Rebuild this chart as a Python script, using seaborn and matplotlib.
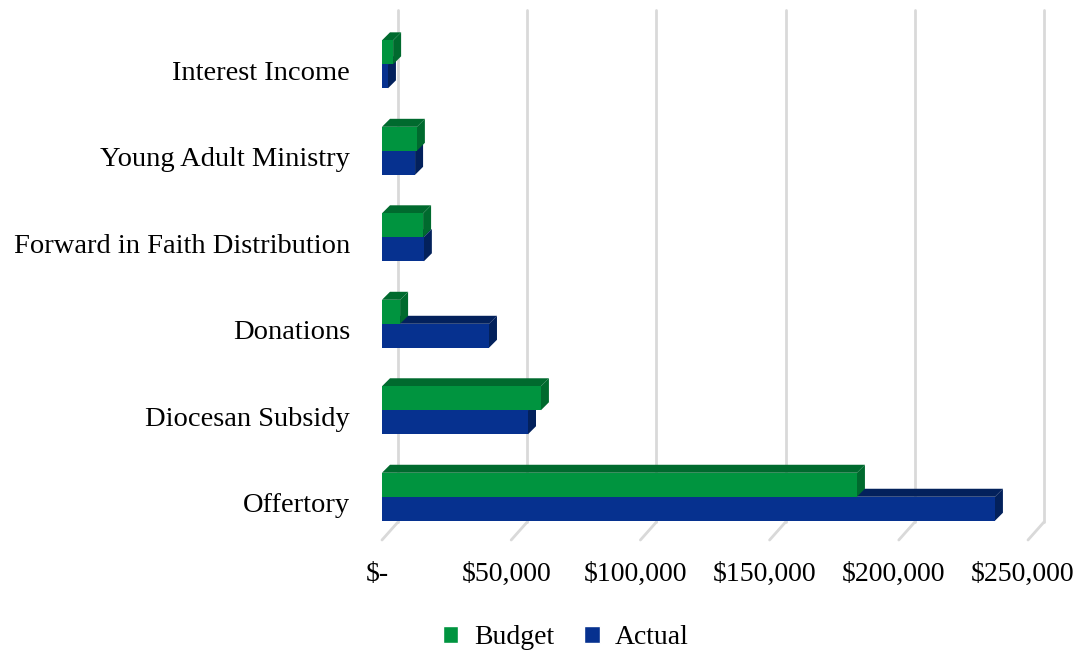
import numpy as np
import pandas as pd
import matplotlib
matplotlib.use("Agg")
import matplotlib.pyplot as plt
import matplotlib.transforms as mtransforms
from matplotlib.patches import Polygon, Patch
import seaborn as sns

categories = ['Interest Income', 'Young Adult Ministry', 'Forward in Faith Distribution',
              'Donations', 'Diocesan Subsidy', 'Offertory']
budget = [4300, 13500, 15900, 7000, 61500, 183800]
actual = [2300, 12800, 16200, 41400, 56500, 237200]
ticks = [0, 50000, 100000, 150000, 200000, 250000]
tick_labels = ['$-', '$50,000', '$100,000', '$150,000', '$200,000', '$250,000']

front = {'Budget': '#00943f', 'Actual': '#06318f'}
side = {'Budget': '#006a2e', 'Actual': '#03215c'}

df = pd.DataFrame({
    'category': categories * 2,
    'value': budget + actual,
    'series': ['Budget'] * len(categories) + ['Actual'] * len(categories),
})

sns.set_style('white')
plt.rcParams['font.family'] = ['Liberation Serif', 'DejaVu Serif']
plt.rcParams['text.color'] = 'black'
plt.rcParams['xtick.color'] = 'black'
plt.rcParams['ytick.color'] = 'black'

fig = plt.figure(figsize=(10.76, 6.56), dpi=100)
ax = fig.add_axes([382 / 1076, (656 - 540) / 656, 646 / 1076, 512 / 656])

sns.barplot(data=df, y='category', x='value', hue='series', order=categories,
            hue_order=['Budget', 'Actual'], palette=front, width=0.555,
            orient='h', ax=ax, legend=False, linewidth=0, saturation=1)

ax.set_xlim(0, 250000)
ax.set_ylim(5.5, -0.42)
for s in ax.spines.values():
    s.set_visible(False)
ax.set_xlabel('')
ax.set_ylabel('')

# depth offsets in pixels
grid_dx, grid_dy = 16, 18
bar_dx, bar_dy = 8, 8

# back-plane gridlines with diagonal floor segment
back = ax.transData + mtransforms.ScaledTranslation(grid_dx / 100, grid_dy / 100, fig.dpi_scale_trans)
y_lo, y_hi = ax.get_ylim()
for v in ticks:
    ax.plot([v, v], [y_lo, y_hi], color='#d9d9d9', lw=2, transform=back, clip_on=False, zorder=0)
    p0 = ax.transData.transform((v, y_lo))
    p1 = back.transform((v, y_lo))
    ax.plot([p0[0], p1[0]], [p0[1], p1[1]], color='#d9d9d9', lw=2,
            transform=None, clip_on=False, zorder=0)

# 3D faces for each bar
inv = ax.transData.inverted()
patches = list(ax.patches)
n = len(categories)
for i, p in enumerate(patches):
    name = 'Budget' if i < n else 'Actual'
    x0, y0 = p.get_x(), p.get_y()
    w, h = p.get_width(), p.get_height()
    if w <= 0:
        continue
    left, bottom = ax.transData.transform((x0, y0 + h))
    right, top = ax.transData.transform((x0 + w, y0))
    top_face = [(left, top), (right, top), (right + bar_dx, top + bar_dy), (left + bar_dx, top + bar_dy)]
    side_face = [(right, bottom), (right + bar_dx, bottom + bar_dy), (right + bar_dx, top + bar_dy), (right, top)]
    z = 4 if name == 'Budget' else 2
    p.set_zorder(z + 0.5)
    for face in (top_face, side_face):
        poly = Polygon([inv.transform(pt) for pt in face], closed=True,
                       facecolor=side[name], edgecolor='none', zorder=z, clip_on=False)
        ax.add_patch(poly)

ax.set_xticks(ticks)
ax.set_xticklabels(tick_labels, fontsize=20)
ax.tick_params(axis='x', length=0, pad=16)
ax.tick_params(axis='y', length=0, pad=23, labelsize=20.5)
for lab in ax.get_xticklabels():
    lab.set_transform(lab.get_transform() + mtransforms.ScaledTranslation(-5 / 100, 0, fig.dpi_scale_trans))
for lab in ax.get_yticklabels():
    lab.set_transform(lab.get_transform() + mtransforms.ScaledTranslation(0, -6 / 100, fig.dpi_scale_trans))

handles = [Patch(facecolor=front['Budget'], label='Budget'),
           Patch(facecolor=front['Actual'], label='Actual')]
fig.legend(handles=handles, loc='center', bbox_to_anchor=(566 / 1076, 1 - 638 / 656),
           ncol=2, frameon=False, fontsize=20, handlelength=0.55, handleheight=0.55,
           handletextpad=0.55, columnspacing=1.1)

fig.savefig('out.png', dpi=100)
